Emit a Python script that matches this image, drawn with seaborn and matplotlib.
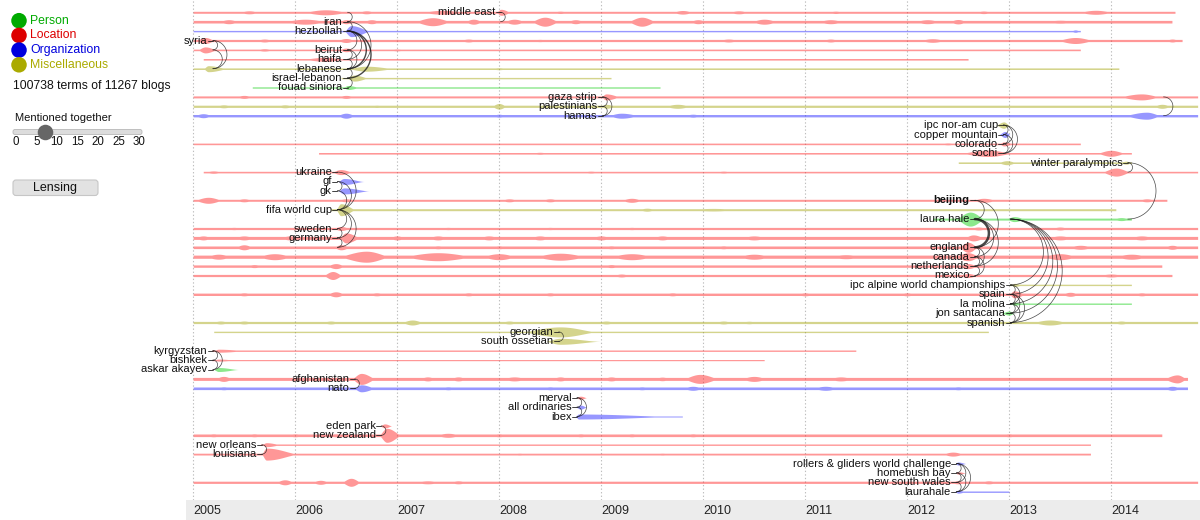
import numpy as np
import matplotlib
matplotlib.use("Agg")
import matplotlib.pyplot as plt
import seaborn as sns
from matplotlib.patches import FancyBboxPatch

# ---------------- data ----------------
categories = ["Person", "Location", "Organization", "Miscellaneous"]
category_colors = ["#00aa00", "#dd0000", "#0000dd", "#aaaa00"]
stream_colors = {"P": "#00cc00", "L": "#ff1a1a", "O": "#1a1aff", "M": "#a0a000"}
years = list(range(2005, 2015))
slider_ticks = [0, 5, 10, 15, 20, 25, 30]
slider_value = 7
total_terms = 100738
total_blogs = 11267

terms = ["middle east", "iran", "hezbollah", "syria", "beirut", "haifa", "lebanese",
         "israel-lebanon", "fouad siniora", "gaza strip", "palestinians", "hamas",
         "ipc nor-am cup", "copper mountain", "colorado", "sochi", "winter paralympics",
         "ukraine", "gf", "gk", "beijing", "fifa world cup", "laura hale", "sweden",
         "germany", "england", "canada", "netherlands", "mexico",
         "ipc alpine world championships", "spain", "la molina", "jon santacana",
         "spanish", "georgian", "south ossetian", "kyrgyzstan", "bishkek",
         "askar akayev", "afghanistan", "nato", "merval", "all ordinaries", "ibex",
         "eden park", "new zealand", "new orleans", "louisiana",
         "rollers & gliders world challenge", "homebush bay", "new south wales",
         "laurahale"]
term_cat = ["L", "L", "O", "L", "L", "L", "M", "M", "P", "L", "M", "O",
            "M", "O", "L", "L", "M", "L", "O", "O", "L", "M", "P", "L",
            "L", "L", "L", "L", "L", "M", "L", "P", "P", "M", "M", "M",
            "L", "L", "P", "L", "O", "L", "O", "O", "L", "L", "L", "L",
            "O", "L", "L", "O"]
label_year = [2008.0, 2006.5, 2006.5, 2005.18, 2006.5, 2006.5, 2006.5, 2006.5, 2006.5,
              2009.0, 2009.0, 2009.0, 2012.93, 2012.93, 2012.93, 2012.93, 2014.15,
              2006.4, 2006.4, 2006.4, 2012.65, 2006.4, 2012.65, 2006.4, 2006.4,
              2012.65, 2012.65, 2012.65, 2012.65, 2013.0, 2013.0, 2013.0, 2013.0,
              2013.0, 2008.57, 2008.57, 2005.18, 2005.18, 2005.18, 2006.57, 2006.57,
              2008.75, 2008.75, 2008.75, 2006.83, 2006.83, 2005.66, 2005.66,
              2012.47, 2012.47, 2012.47, 2012.47]
start_year = [2005.0, 2005.0, 2005.0, 2005.0, 2005.0, 2005.1, 2005.0, 2006.45, 2005.58,
              2005.0, 2005.0, 2005.0, 2012.88, 2012.9, 2005.0, 2006.23, 2012.5,
              2005.1, 2006.42, 2006.42, 2005.0, 2006.35, 2012.25, 2005.0, 2005.0,
              2005.0, 2005.0, 2005.0, 2005.0, 2013.0, 2005.0, 2013.0, 2012.92,
              2005.0, 2005.2, 2008.4, 2005.18, 2005.18, 2005.18, 2005.0, 2005.0,
              2008.75, 2008.75, 2008.75, 2006.83, 2005.0, 2005.66, 2005.0,
              2012.47, 2012.47, 2005.0, 2012.47]
end_year = [2014.63, 2014.6, 2013.7, 2014.7, 2013.7, 2012.6, 2014.08, 2009.1, 2009.58,
            2014.85, 2014.85, 2014.85, 2013.0, 2013.0, 2013.7, 2014.2, 2014.2,
            2014.85, 2006.7, 2006.75, 2014.55, 2014.05, 2014.2, 2014.85, 2014.85,
            2014.85, 2014.85, 2014.5, 2014.6, 2014.2, 2014.85, 2014.2, 2013.05,
            2014.85, 2012.8, 2009.0, 2011.5, 2010.6, 2005.45, 2014.75, 2014.75,
            2008.86, 2008.86, 2009.8, 2006.95, 2014.5, 2013.8, 2013.8,
            2012.6, 2012.6, 2014.85, 2013.0]
# baseline frequency of each term (px half-thickness)
base_freq = [1.0, 1.3, 0.7, 1.1, 0.8, 0.8, 0.8, 0.7, 0.7, 1.0, 1.1, 1.2,
             0.0, 0.0, 0.8, 0.8, 0.8, 0.8, 0.0, 0.0, 1.0, 1.0, 1.0, 1.1,
             1.5, 1.3, 1.6, 1.2, 1.1, 0.7, 1.2, 0.7, 0.0, 1.1, 0.7, 0.0,
             0.7, 0.6, 0.0, 1.5, 1.3, 0.0, 0.0, 0.5, 0.0, 1.3, 0.7, 0.9,
             0.0, 0.0, 1.1, 0.7]
# peaks of each term: (year, value, spread before, spread after)
bumps = [
    [(2005.55, 1.5, .12, .12), (2006.3, 2.5, .25, .25), (2006.7, 1.5, .1, .1), (2007.45, 2, .25, .25),
     (2008.02, 3, .05, .1), (2008.6, 1.2, .1, .1), (2009.8, 1.8, .12, .12), (2010.35, 1.5, .12, .12),
     (2011.3, 1.2, .1, .1), (2012.75, 1.3, .1, .1), (2013.85, 2, .2, .2)],
    [(2005.35, 2, .12, .12), (2006.1, 2.5, .25, .25), (2006.5, 2, .08, .1), (2006.75, 2, .1, .1),
     (2007.35, 4, .2, .2), (2007.75, 2.5, .1, .1), (2008.15, 2.5, .12, .12), (2008.45, 4.5, .15, .15),
     (2008.75, 2, .1, .1), (2009.4, 4.5, .15, .15), (2009.95, 2, .1, .1), (2010.6, 2.5, .15, .15),
     (2011.25, 2, .15, .15), (2012.2, 2, .15, .15), (2012.5, 2.2, .1, .1), (2013.5, 1.5, .2, .2)],
    [(2006.55, 5.5, .07, .2), (2013.65, 1.2, .05, .05)],
    [(2005.12, 3, .1, .1), (2005.7, 1.5, .1, .1), (2006.5, 2, .1, .1), (2007.0, 1.2, .1, .1),
     (2007.7, 1.5, .1, .1), (2008.4, 1.2, .1, .1), (2010.25, 1.5, .12, .12), (2011.25, 1.5, .1, .1),
     (2012.25, 1.8, .15, .15), (2013.65, 3, .2, .2), (2014.6, 1.5, .08, .08)],
    [(2005.12, 3, .08, .12), (2005.7, 1.2, .1, .1), (2006.5, 1.8, .08, .1), (2007.0, 1, .1, .1)],
    [(2006.3, 2, .25, .2)],
    [(2005.15, 3, .05, .2), (2006.7, 2.5, .2, .3), (2008.0, 1, .1, .1), (2011.5, 0.8, .2, .2)],
    [(2006.58, 3, .08, .15)],
    [(2006.52, 2, .05, .12)],
    [(2005.5, 1.5, .1, .1), (2006.5, 1.5, .1, .1), (2007.3, 1, .1, .1), (2009.05, 3, .05, .15),
     (2010.6, 1, .1, .1), (2014.3, 3, .25, .2)],
    [(2005.3, 1.5, .1, .1), (2005.9, 1.5, .1, .1), (2006.8, 1.2, .1, .1), (2008.0, 2.8, .08, .08),
     (2009.05, 2, .05, .1), (2009.75, 2, .15, .15), (2014.5, 2, .1, .1)],
    [(2005.1, 2, .1, .1), (2006.5, 2.5, .1, .1), (2007.1, 1, .1, .1), (2008.0, 1.5, .08, .08),
     (2009.2, 2.5, .15, .2), (2009.9, 1.5, .1, .1), (2011.1, 1, .1, .1), (2014.35, 3.5, .25, .15)],
    [(2012.95, 3.2, .08, .05)],
    [(2012.96, 3, .06, .05)],
    [(2012.4, 1, .1, .1), (2012.95, 2, .05, .1)],
    [(2008.4, 1, .1, .1), (2012.8, 3.2, .3, .25), (2014.0, 3, .15, .15)],
    [(2012.98, 2, .1, .1), (2014.15, 1.5, .08, .05)],
    [(2005.2, 1.2, .1, .1), (2006.45, 2.5, .1, .12), (2008.9, 1, .1, .1), (2010.2, 1, .1, .1),
     (2014.05, 4, .15, .15)],
    [(2006.48, 3, .06, .2)],
    [(2006.48, 3, .06, .25)],
    [(2005.15, 3, .15, .15), (2005.5, 1.5, .1, .1), (2006.5, 1.5, .1, .1), (2007.4, 1, .1, .1),
     (2008.1, 1.5, .1, .1), (2008.5, 1.5, .1, .1), (2009.3, 2, .12, .12), (2012.75, 2, .12, .15),
     (2014.35, 1.5, .1, .1)],
    [(2006.45, 6, .05, .15), (2009.45, 1.5, .1, .1), (2010.1, 1.3, .3, .3), (2013.3, 1, .2, .2)],
    [(2012.62, 7, .15, .15), (2013.05, 2.5, .08, .12), (2014.1, 1.5, .1, .1)],
    [(2005.4, 1.2, .1, .1), (2006.0, 1.2, .1, .1), (2006.45, 2, .08, .1), (2007.5, 1.2, .1, .1),
     (2008.5, 1.2, .1, .1), (2009.3, 1.2, .1, .1), (2012.7, 1.5, .1, .1), (2013.5, 1.5, .1, .1)],
    [(2005.1, 2, .1, .1), (2005.5, 2, .12, .12), (2005.95, 2, .12, .12), (2006.5, 5, .07, .15),
     (2007.0, 2, .1, .1), (2007.4, 2, .12, .12), (2007.9, 2, .12, .12), (2008.4, 2, .12, .12),
     (2009.0, 2, .12, .12), (2009.6, 2, .12, .12), (2010.5, 2, .15, .15), (2011.4, 1.5, .12, .12),
     (2012.65, 3, .1, .12), (2013.5, 2, .15, .15), (2014.3, 2, .15, .15)],
    [(2005.5, 2.5, .1, .1), (2006.45, 2.5, .08, .1), (2007.4, 1.5, .1, .1), (2008.0, 1.5, .1, .1),
     (2009.1, 1.5, .1, .1), (2010.2, 1.5, .1, .1), (2012.6, 5, .1, .1), (2013.7, 2, .15, .15),
     (2014.6, 2, .1, .1)],
    [(2005.25, 2.5, .15, .15), (2005.8, 3, .2, .2), (2006.7, 5.5, .3, .25), (2007.4, 4, .4, .4),
     (2008.0, 3, .2, .2), (2008.6, 3.5, .3, .3), (2009.3, 3, .25, .25), (2010.5, 2.5, .2, .2),
     (2011.4, 2, .2, .2), (2012.6, 4, .15, .12), (2013.5, 3, .2, .2), (2014.2, 2.5, .2, .2)],
    [(2005.6, 1.5, .1, .1), (2006.4, 2.5, .1, .1), (2009.1, 1.5, .1, .1), (2011.6, 1.2, .1, .1),
     (2012.6, 2.5, .1, .1), (2013.5, 1.5, .1, .1)],
    [(2005.5, 1, .1, .1), (2006.37, 4, .1, .1), (2009.2, 1.5, .1, .1), (2012.6, 2, .1, .1),
     (2014.0, 1.5, .15, .15)],
    [(2013.05, 1.5, .03, .1)],
    [(2005.5, 1.5, .1, .1), (2006.4, 2.5, .1, .1), (2006.8, 1.5, .1, .1), (2007.7, 1.5, .1, .1),
     (2008.5, 1.5, .1, .1), (2009.7, 1.5, .1, .1), (2011.0, 1.5, .1, .1), (2012.0, 1.5, .1, .1),
     (2013.05, 3.5, .05, .12), (2013.6, 2, .1, .1), (2014.3, 1.5, .1, .1)],
    [(2013.05, 1.5, .03, .1)],
    [(2013.0, 2, .08, .05)],
    [(2005.27, 1.5, .1, .1), (2005.5, 1.5, .1, .1), (2006.35, 1.5, .1, .1), (2007.15, 2.5, .12, .12),
     (2008.1, 1.5, .1, .1), (2009.05, 1.5, .1, .1), (2010.2, 1.5, .1, .1), (2010.45, 1.3, .1, .1),
     (2013.4, 2.5, .2, .2), (2014.1, 1.5, .1, .1)],
    [(2008.6, 5, .4, .38)],
    [(2008.6, 3, .15, .4)],
    [(2005.25, 1.5, .05, .3)],
    [(2005.25, 1, .05, .2)],
    [(2005.25, 2, .05, .2)],
    [(2005.3, 2.5, .1, .1), (2005.7, 1.5, .1, .1), (2006.0, 1.5, .1, .1), (2006.65, 5.5, .1, .15),
     (2007.3, 2, .1, .1), (2007.6, 2, .1, .1), (2008.15, 2, .15, .15), (2008.6, 2, .1, .1),
     (2009.1, 2, .1, .1), (2009.6, 1.8, .1, .1), (2009.97, 4.5, .18, .2), (2010.5, 2.5, .15, .15),
     (2011.35, 2, .15, .15), (2012.3, 1.5, .1, .1), (2013.0, 1.5, .1, .1), (2013.7, 1.5, .1, .1),
     (2014.65, 4, .15, .1)],
    [(2005.3, 1.5, .1, .1), (2006.65, 3.5, .08, .15), (2007.5, 1.5, .1, .1), (2008.5, 1.5, .1, .1),
     (2009.4, 1.5, .1, .1), (2009.9, 2, .12, .12), (2011.2, 2, .15, .15), (2012.5, 1.5, .1, .1),
     (2014.6, 2, .1, .1)],
    [(2008.8, 1.5, .05, .06)],
    [(2008.8, 2, .05, .06)],
    [(2008.78, 2.5, .03, 1.0)],
    [(2006.88, 2, .05, .07)],
    [(2005.2, 1.5, .1, .1), (2005.6, 1.5, .1, .1), (2006.0, 1.5, .1, .1), (2006.4, 1.5, .1, .1),
     (2006.9, 7, .08, .15), (2007.5, 2, .15, .15), (2008.0, 1.5, .1, .1), (2008.8, 1.5, .1, .1),
     (2009.3, 1.5, .1, .1), (2009.9, 1.5, .1, .1), (2013.0, 1.5, .1, .1), (2013.5, 1.2, .1, .1)],
    [(2005.72, 2, .05, .15)],
    [(2005.72, 6, .05, .33), (2008.2, 1, .1, .1), (2009.6, 1, .1, .1), (2012.45, 2, .12, .12)],
    [(2012.5, 1.5, .03, .08)],
    [(2012.5, 1.2, .03, .08)],
    [(2005.9, 2.5, .1, .1), (2006.25, 2, .1, .1), (2006.55, 4, .1, .1), (2007.3, 1.5, .15, .15),
     (2007.6, 1.5, .1, .1), (2008.5, 1, .1, .1), (2012.5, 1.5, .1, .1), (2012.8, 1.5, .1, .1)],
    [(2012.5, 1.5, .03, .08)],
]
# co-occurrence arcs: (row a, row b, year, strength)
arcs = [
    (3, 4, 2005.18, 1), (3, 6, 2005.18, 1), (4, 6, 2005.18, 1),
    (0, 1, 2008.0, 1),
    (0, 1, 2006.5, 1), (1, 2, 2006.5, 1), (1, 6, 2006.5, 1), (2, 4, 2006.5, 1),
    (2, 5, 2006.5, 1), (2, 6, 2006.5, 2), (2, 7, 2006.5, 2), (4, 5, 2006.5, 1),
    (4, 6, 2006.5, 1), (5, 6, 2006.5, 1), (6, 7, 2006.5, 1), (7, 8, 2006.5, 1),
    (9, 10, 2009.0, 1), (9, 11, 2009.0, 1), (10, 11, 2009.0, 1),
    (9, 11, 2014.5, 1),
    (12, 13, 2012.93, 1), (12, 14, 2012.93, 1), (13, 14, 2012.93, 1),
    (13, 15, 2012.93, 1), (14, 15, 2012.93, 1), (12, 15, 2012.93, 1),
    (16, 17, 2014.15, 1), (16, 22, 2014.15, 1),
    (17, 21, 2006.4, 1), (18, 21, 2006.4, 1), (19, 21, 2006.4, 1), (18, 19, 2006.4, 1),
    (21, 23, 2006.4, 1), (21, 24, 2006.4, 1), (21, 25, 2006.4, 1), (23, 24, 2006.4, 1),
    (24, 25, 2006.4, 1),
    (20, 22, 2012.65, 1), (20, 25, 2012.65, 1), (22, 25, 2012.65, 3), (22, 26, 2012.65, 1),
    (25, 26, 2012.65, 1), (25, 27, 2012.65, 1), (26, 27, 2012.65, 1), (26, 28, 2012.65, 1),
    (27, 28, 2012.65, 1), (22, 27, 2012.65, 1),
    (22, 29, 2013.0, 1), (22, 30, 2013.0, 1), (22, 31, 2013.0, 1), (22, 32, 2013.0, 1),
    (22, 33, 2013.0, 1),
    (29, 30, 2013.0, 1), (29, 31, 2013.0, 1), (30, 31, 2013.0, 1), (30, 32, 2013.0, 1),
    (31, 32, 2013.0, 1), (31, 33, 2013.0, 1), (32, 33, 2013.0, 1), (30, 33, 2013.0, 1),
    (34, 35, 2008.57, 1),
    (36, 37, 2005.18, 1), (36, 38, 2005.18, 1), (37, 38, 2005.18, 1),
    (39, 40, 2006.57, 1),
    (41, 42, 2008.75, 1), (41, 43, 2008.75, 1), (42, 43, 2008.75, 1),
    (44, 45, 2006.83, 1),
    (46, 47, 2005.66, 1),
    (48, 49, 2012.47, 1), (48, 50, 2012.47, 1), (49, 50, 2012.47, 1), (49, 51, 2012.47, 1),
    (50, 51, 2012.47, 1), (48, 51, 2012.47, 1),
]
bold_terms = ["beijing"]

# ---------------- layout ----------------
sns.set_theme(style="white")
plt.rcParams["font.family"] = ["Liberation Sans", "DejaVu Sans"]

W, H = 1200, 520
fig = plt.figure(figsize=(W / 100, H / 100), dpi=100)

AX_L, AX_R, AX_TOP, AX_BOT = 186, 1200, 0, 500
X0_PX, PX_YEAR = 193.0, 102.0
Y0_PX, PX_ROW = 12.3, 9.4

ax = fig.add_axes([AX_L / W, (H - AX_BOT) / H, (AX_R - AX_L) / W, (AX_BOT - AX_TOP) / H])
xlim = (2005 + (AX_L - X0_PX) / PX_YEAR, 2005 + (AX_R - X0_PX) / PX_YEAR)
ylim = ((AX_BOT - Y0_PX) / PX_ROW, (AX_TOP - Y0_PX) / PX_ROW)
ax.set_xlim(*xlim)
ax.set_ylim(*ylim)
ax.axis("off")

for yr in years:
    ax.axvline(yr, color="#bdbdbd", lw=0.8, ls=(0, (1.2, 2.0)), zorder=0)

grid = np.linspace(xlim[0], xlim[1], 3000)
for i in range(len(terms)):
    prof = np.where((grid >= start_year[i]) & (grid <= end_year[i]), base_freq[i], 0.0)
    for (c, h, lw_, rw_) in bumps[i]:
        d = grid - c
        w = np.where(d < 0, lw_, rw_)
        u = np.clip(1 - (d / w) ** 2, 0, None) ** 2
        prof = np.maximum(prof, h * u)
    half = prof / PX_ROW
    mask = prof > 0
    ax.fill_between(grid, i - half, i + half, where=mask, color=stream_colors[term_cat[i]],
                    alpha=0.45, lw=0, zorder=1)

# arcs
t = np.linspace(0, np.pi, 80)
for (a, b, yr, s) in arcs:
    r_px = abs(b - a) * PX_ROW / 2
    xs = yr + (1.5 + r_px * np.sin(t)) / PX_YEAR
    ys = (a + b) / 2 - (b - a) / 2 * np.cos(t)
    ax.plot(xs, ys, color="#1a1a1a", lw=0.5 if s == 1 else (1.0 if s == 2 else 1.8),
            alpha=0.8, zorder=3, solid_capstyle="round")

# labels
for i, term in enumerate(terms):
    yr = label_year[i]
    ax.plot([yr - 3.5 / PX_YEAR, yr + 1.5 / PX_YEAR], [i, i], color="#222222", lw=0.6, zorder=3)
    ax.text(yr - 4 / PX_YEAR, i, term, ha="right", va="center", fontsize=8,
            fontweight="bold" if term in bold_terms else "normal", color="#111111",
            zorder=4, clip_on=False)

# bottom time band
band = fig.add_axes([AX_L / W, 0, (AX_R - AX_L) / W, (H - AX_BOT) / H])
band.set_xlim(*xlim)
band.set_ylim(0, 1)
band.set_facecolor("#ececec")
for sp in band.spines.values():
    sp.set_visible(False)
band.set_xticks([])
band.set_yticks([])
for yr in years:
    band.text(yr, 0.45, str(yr), ha="left", va="center", fontsize=9, color="#222222")

# ---------------- left panel (pixel coordinates) ----------------
ov = fig.add_axes([0, 0, 1, 1], zorder=-1)
ov.set_xlim(0, W)
ov.set_ylim(H, 0)
ov.axis("off")
ov.patch.set_alpha(0)

leg_y = [20.7 + 14.7 * k for k in range(len(categories))]
sns.scatterplot(x=[19] * len(categories), y=leg_y, hue=categories, palette=category_colors,
                s=125, linewidth=0, legend=False, ax=ov)
for k, cat in enumerate(categories):
    ov.text(30, leg_y[k], cat, ha="left", va="center", fontsize=8.8, color=category_colors[k])

ov.text(13, 86, f"{total_terms} terms of {total_blogs} blogs", ha="left", va="center",
        fontsize=8.8, color="#111111")
ov.text(15, 118, "Mentioned together", ha="left", va="center", fontsize=8, color="#111111")

t0, t1 = 15.7, 139.3
track = FancyBboxPatch((13, 129.5), 129, 5, boxstyle="round,pad=0,rounding_size=2",
                       facecolor="#dcdcdc", edgecolor="#b8b8b8", lw=0.6)
ov.add_patch(track)
thumb_x = t0 + (t1 - t0) * slider_value / slider_ticks[-1]
ov.scatter([thumb_x], [132], s=125, color="#666666", zorder=5, linewidths=0)
for v in slider_ticks:
    ov.text(t0 + (t1 - t0) * v / slider_ticks[-1], 141.7, str(v), ha="center", va="center",
            fontsize=8.3, color="#111111")

btn = FancyBboxPatch((13, 180), 85, 15.5, boxstyle="round,pad=0,rounding_size=3",
                     facecolor="#e2e2e2", edgecolor="#c6c6c6", lw=0.8)
ov.add_patch(btn)
ov.text(55.5, 188, "Lensing", ha="center", va="center", fontsize=9, color="#111111")

fig.savefig("out.png", dpi=100)
